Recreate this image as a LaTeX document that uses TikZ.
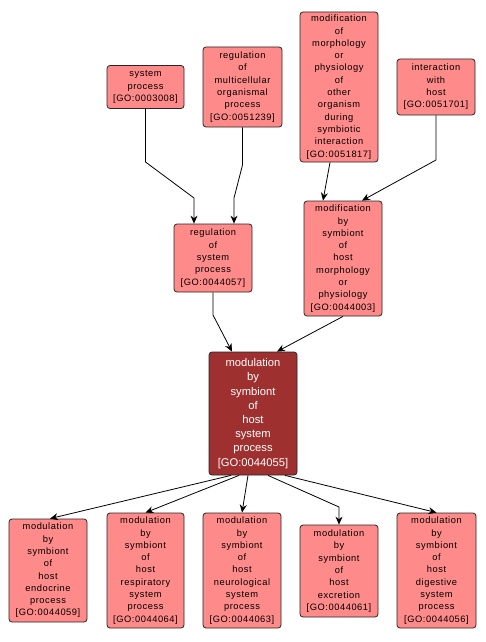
\documentclass[tikz,border=0pt]{standalone}
\usepackage{fontspec}
\setmainfont{Liberation Sans}[LetterSpace=6]
\newfontfamily\mainboxfont{Liberation Sans}
\usetikzlibrary{arrows.meta}
\definecolor{boxfill}{HTML}{FF8A8A}
\definecolor{mainfill}{HTML}{9E3030}
\tikzset{
  gobox/.style={draw=black!85, line width=0.8pt, fill=boxfill, rounded corners=3pt, align=center,
    inner sep=0pt, font=\fontsize{9.3}{12.3}\selectfont, text=black},
  mainbox/.style={gobox, fill=mainfill, text=white, font=\mainboxfont\fontsize{11.2}{14.2}\selectfont},
  arr/.style={draw=black, line width=0.8pt, -{Stealth[length=8pt,width=7pt]}}
}
\begin{document}
\begin{tikzpicture}[x=1pt,y=-1pt]
\useasboundingbox (0,0) rectangle (486,642);
\node[gobox, minimum width=77pt, minimum height=43pt] (sys) at (145.5,87) {system\\process\\{[}GO:0003008{]}};
\node[gobox, minimum width=79pt, minimum height=80pt] (regmc) at (242.5,87) {regulation\\of\\multicellular\\organismal\\process\\{[}GO:0051239{]}};
\node[gobox, minimum width=78pt, minimum height=150pt] (modmorph) at (339,87) {modification\\of\\morphology\\or\\physiology\\of\\other\\organism\\during\\symbiotic\\interaction\\{[}GO:0051817{]}};
\node[gobox, minimum width=78pt, minimum height=56pt] (inter) at (436,87) {interaction\\with\\host\\{[}GO:0051701{]}};
\node[gobox, minimum width=78pt, minimum height=68pt] (regsys) at (213,258) {regulation\\of\\system\\process\\{[}GO:0044057{]}};
\node[gobox, minimum width=78pt, minimum height=115pt] (modsym) at (343,258.5) {modification\\by\\symbiont\\of\\host\\morphology\\or\\physiology\\{[}GO:0044003{]}};
\node[mainbox, minimum width=88pt, minimum height=123pt] (main) at (253,413.5) {modulation\\by\\symbiont\\of\\host\\system\\process\\{[}GO:0044055{]}};
\node[gobox, minimum width=78pt, minimum height=103pt] (endo) at (48,570.5) {modulation\\by\\symbiont\\of\\host\\endocrine\\process\\{[}GO:0044059{]}};
\node[gobox, minimum width=77pt, minimum height=115pt] (resp) at (145.5,570.5) {modulation\\by\\symbiont\\of\\host\\respiratory\\system\\process\\{[}GO:0044064{]}};
\node[gobox, minimum width=78pt, minimum height=115pt] (neuro) at (242,570.5) {modulation\\by\\symbiont\\of\\host\\neurological\\system\\process\\{[}GO:0044063{]}};
\node[gobox, minimum width=78pt, minimum height=92pt] (excr) at (339,571) {modulation\\by\\symbiont\\of\\host\\excretion\\{[}GO:0044061{]}};
\node[gobox, minimum width=79pt, minimum height=115pt] (dig) at (436.5,570.5) {modulation\\by\\symbiont\\of\\host\\digestive\\system\\process\\{[}GO:0044056{]}};
% edges
\draw[arr] (sys.south) -- (145.5,162) -- (194,198) -- ([xshift=-19pt]regsys.north);
\draw[arr] (regmc.south) -- (242.5,165) -- (234,198) -- ([xshift=21pt]regsys.north);
\draw[arr] ([xshift=-9pt]modmorph.south) -- ([xshift=-20pt]modsym.north);
\draw[arr] (inter.south) -- (436,160) -- ([xshift=19pt]modsym.north);
\draw[arr] (regsys.south) -- (213,315) -- ([xshift=-21pt]main.north);
\draw[arr] ([xshift=0pt]modsym.south) -- ([xshift=24pt]main.north);
\draw[arr] ([xshift=-22pt]main.south) -- ([xshift=2pt]endo.north);
\draw[arr] ([xshift=-14pt]main.south) -- (resp.north);
\draw[arr] ([xshift=-5pt]main.south) -- (neuro.north);
\draw[arr] ([xshift=15pt]main.south) -- (339,507) -- (excr.north);
\draw[arr] ([xshift=32pt]main.south) -- (dig.north);
\end{tikzpicture}
\end{document}
